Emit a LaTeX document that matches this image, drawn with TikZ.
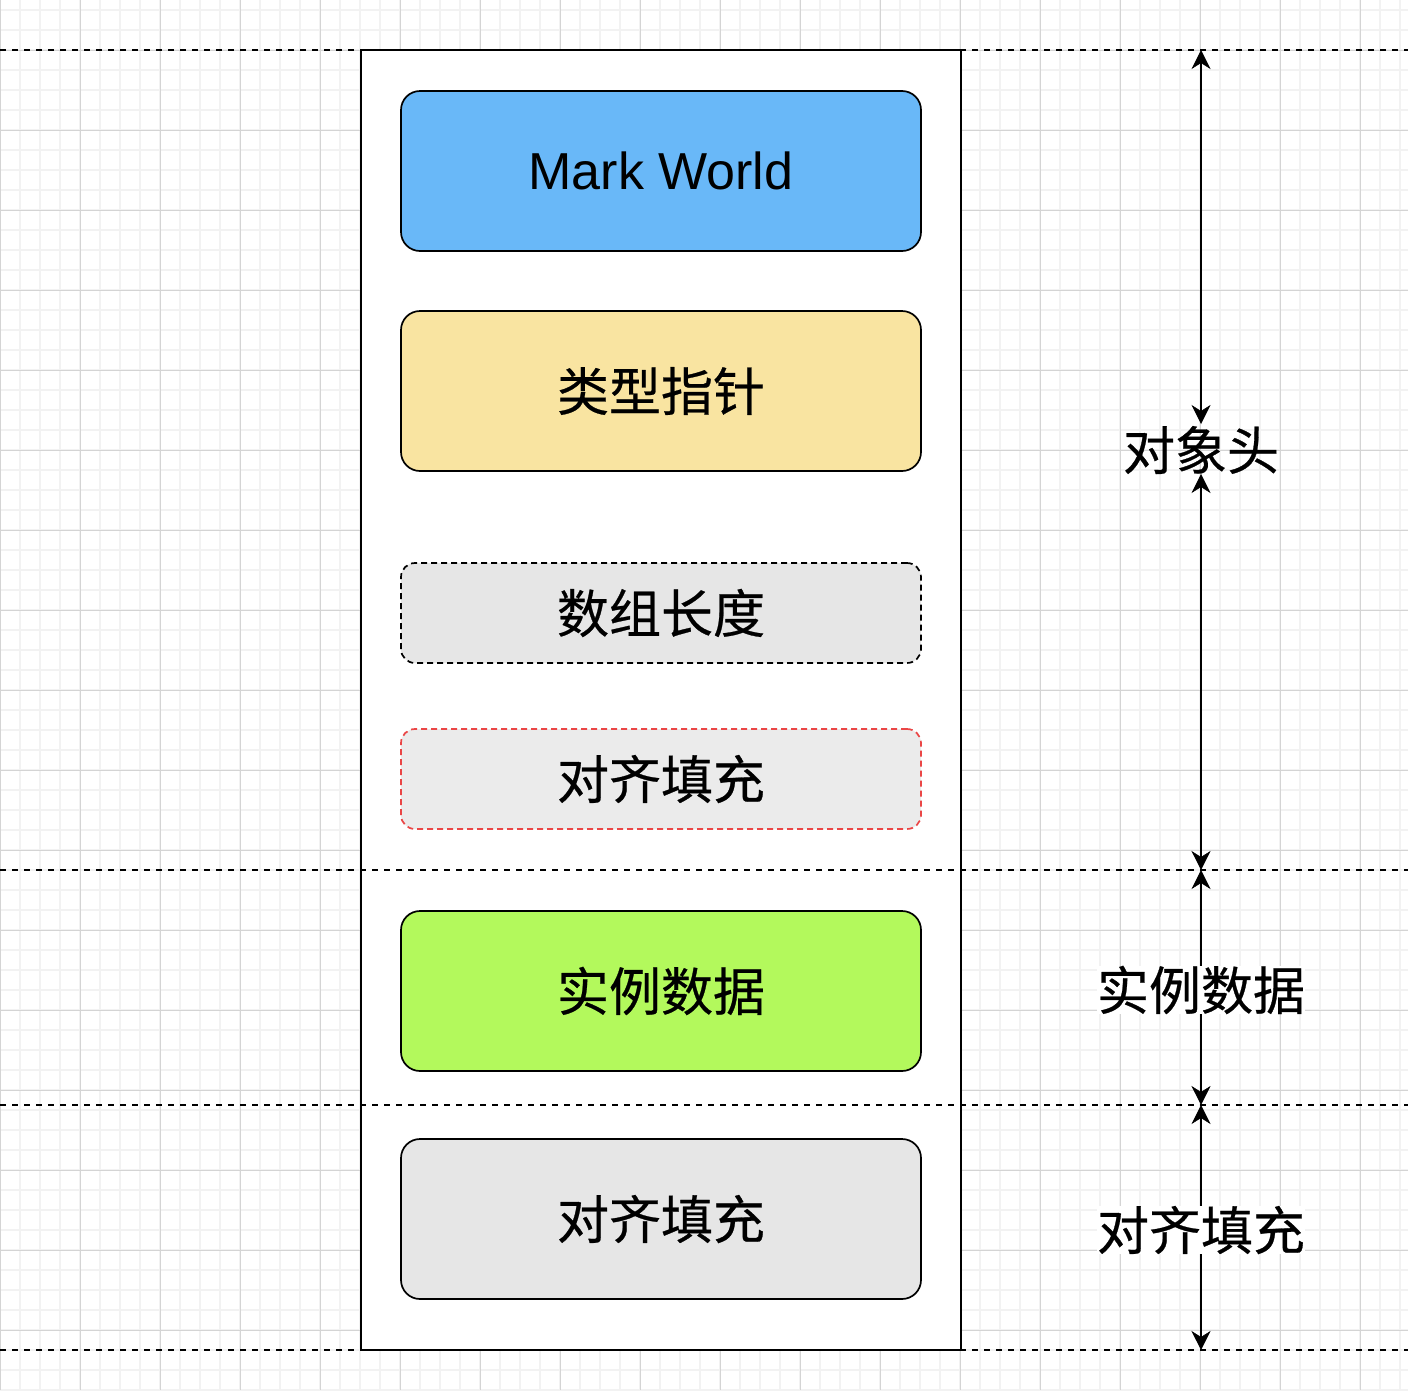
\documentclass[tikz,border=0pt]{standalone}
\usepackage{fontspec}
\setmainfont{Liberation Sans}
\newfontfamily\cjk[FakeBold=0.5]{Noto Sans CJK SC}
\usetikzlibrary{arrows.meta}
\definecolor{minorgrid}{HTML}{F2F2F2}
\definecolor{majorgrid}{HTML}{D4D4D4}
\definecolor{markblue}{HTML}{69B8F8}
\definecolor{ptryellow}{HTML}{F9E4A1}
\definecolor{datagreen}{HTML}{B3F95C}
\definecolor{boxgray}{HTML}{E6E6E6}
\definecolor{padgray}{HTML}{EBEBEB}
\definecolor{padred}{HTML}{EA4646}
\tikzset{
  gridminor/.style={draw=minorgrid, line width=1.6pt},
  gridmajor/.style={draw=majorgrid, line width=1pt},
  guide/.style={draw=black, line width=1.6pt, dash pattern=on 6pt off 6pt},
  framebox/.style={draw=black, line width=1.3pt, fill=white, minimum width=600pt, minimum height=1300pt, inner sep=0pt},
  bigbox/.style={draw=black, line width=1.7pt, rounded corners=19pt, minimum width=520pt, minimum height=160pt, inner sep=0pt, font=\fontsize{52}{60}\selectfont},
  smallbox/.style={line width=1.7pt, rounded corners=14pt, minimum width=520pt, minimum height=100pt, inner sep=0pt, dash pattern=on 6pt off 4pt, font=\fontsize{52}{60}\selectfont},
  sidelabel/.style={inner sep=0pt, font=\fontsize{52}{60}\selectfont\cjk},
  dimtip/.tip={Stealth[length=19pt,width=19pt,inset=6pt,line width=0.5pt]},
  dimarrow/.style={draw=black, line width=1.7pt, dimtip-dimtip}
}
\begin{document}
\begin{tikzpicture}[x=1pt,y=-1pt]
\useasboundingbox (0,0) rectangle (1408,1390);
\fill[white] (0,0) rectangle (1408,1390);
% grid
\foreach \x in {0,20,...,1400} \draw[gridminor] (\x,0) -- (\x,1390);
\foreach \y in {10,30,...,1390} \draw[gridminor] (0,\y) -- (1408,\y);
\foreach \x in {0,80,...,1400} \draw[gridmajor] (\x,0) -- (\x,1390);
\foreach \y in {50,130,...,1390} \draw[gridmajor] (0,\y) -- (1408,\y);
% guide lines
\coordinate (g1l) at (0,50);   \coordinate (g1r) at (1408,50);
\coordinate (g2l) at (0,870);  \coordinate (g2r) at (1408,870);
\coordinate (g3l) at (0,1105); \coordinate (g3r) at (1408,1105);
\coordinate (g4l) at (0,1350); \coordinate (g4r) at (1408,1350);
% frame
\node[framebox] (frame) at (661,700) {};
\draw[guide] (g1l) -- (g1r);
\draw[guide] (g2l) -- (g2r);
\draw[guide] (g3l) -- (g3r);
\draw[guide] (g4l) -- (g4r);
\draw[draw=black, line width=1.3pt] (frame.north west) rectangle (frame.south east);
% boxes
\node[bigbox, fill=markblue] (mark) at (661,171) {Mark World};
\node[bigbox, fill=ptryellow] (klass) at (661,391) {\cjk 类型指针};
\node[smallbox, draw=black, fill=boxgray] (alen) at (661,613) {\cjk 数组长度};
\node[smallbox, draw=padred, fill=padgray] (pad1) at (661,779) {\cjk 对齐填充};
\node[bigbox, fill=datagreen] (inst) at (661,991) {\cjk 实例数据};
\node[bigbox, fill=boxgray] (pad2) at (661,1219) {\cjk 对齐填充};
% dimension arrows
\coordinate (d0) at (1201,50);
\coordinate (d1) at (1201,424);
\coordinate (d2) at (1201,474);
\coordinate (d3) at (1201,870);
\coordinate (d4) at (1201,1105);
\coordinate (d5) at (1201,1350);
\draw[dimarrow] (d1) -- (d0);
\draw[dimarrow] (d2) -- (d3);
\draw[dimarrow] (d3) -- (d4);
\draw[dimarrow] (d4) -- (d5);
\node[sidelabel] (hdr) at (1201,450) {对象头};
\node[sidelabel, fill=white] (instlbl) at (1201,990) {实例数据};
\node[sidelabel, fill=white] (padlbl) at (1201,1230) {对齐填充};
\end{tikzpicture}
\end{document}
